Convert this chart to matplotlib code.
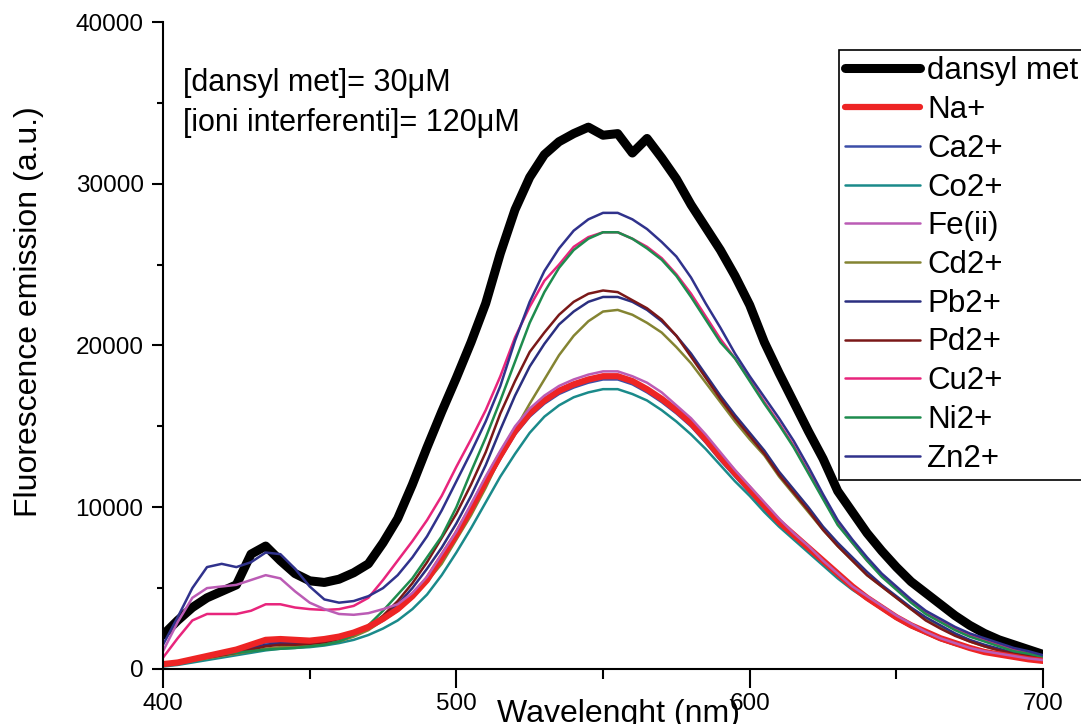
import matplotlib
matplotlib.use('Agg')
import matplotlib.pyplot as plt
from matplotlib.ticker import MultipleLocator

plt.rcParams['font.family'] = ['Liberation Sans', 'DejaVu Sans']

# emission spectra (5 nm steps)
wavelength = [400, 405, 410, 415, 420, 425, 430, 435, 440, 445, 450, 455, 460, 465, 470,
              475, 480, 485, 490, 495, 500, 505, 510, 515, 520, 525, 530, 535, 540, 545,
              550, 555, 560, 565, 570, 575, 580, 585, 590, 595, 600, 605, 610, 615, 620,
              625, 630, 635, 640, 645, 650, 655, 660, 665, 670, 675, 680, 685, 690, 695, 700]

dansyl_met = [2100, 3000, 3800, 4400, 4800, 5200, 7100, 7600, 6700, 5900, 5450, 5350, 5550, 5950, 6500,
              7800, 9300, 11400, 13700, 15900, 18000, 20200, 22600, 25700, 28400, 30400, 31800, 32600, 33100, 33500,
              33000, 33100, 31900, 32800, 31600, 30300, 28700, 27300, 25900, 24300, 22500, 20200, 18300, 16500, 14700,
              13000, 11000, 9700, 8400, 7300, 6300, 5400, 4700, 4000, 3300, 2700, 2200, 1800, 1500, 1200, 900]
na = [300, 400, 600, 800, 1000, 1200, 1500, 1800, 1850, 1800, 1750, 1850, 2000, 2250, 2600,
      3100, 3700, 4500, 5500, 6900, 8300, 9900, 11600, 13200, 14700, 15800, 16600, 17200, 17600, 17900,
      18100, 18100, 17800, 17300, 16700, 16000, 15200, 14200, 13100, 12100, 11100, 10100, 9100, 8300, 7500,
      6700, 5900, 5100, 4400, 3800, 3200, 2700, 2300, 1900, 1600, 1300, 1050, 900, 750, 600, 500]
ca = [250, 380, 550, 750, 950, 1150, 1400, 1650, 1700, 1700, 1700, 1800, 1950, 2150, 2500,
      3000, 3600, 4400, 5400, 6700, 8100, 9700, 11400, 13000, 14500, 15600, 16400, 17000, 17400, 17700,
      17900, 17900, 17600, 17100, 16500, 15800, 15000, 14000, 12900, 11900, 10900, 9900, 8900, 8100, 7300,
      6500, 5700, 5000, 4300, 3700, 3100, 2600, 2200, 1800, 1500, 1250, 1000, 850, 700, 580, 480]
co = [150, 250, 400, 550, 700, 850, 1000, 1150, 1250, 1300, 1350, 1450, 1600, 1800, 2100,
      2500, 3000, 3700, 4600, 5800, 7200, 8700, 10300, 11900, 13300, 14600, 15600, 16300, 16800, 17100,
      17300, 17300, 17000, 16600, 16000, 15300, 14500, 13600, 12600, 11600, 10700, 9700, 8800, 8000, 7200,
      6400, 5600, 4900, 4300, 3700, 3100, 2600, 2200, 1800, 1500, 1250, 1000, 850, 700, 580, 450]
fe = [1100, 2900, 4400, 5000, 5100, 5200, 5500, 5800, 5600, 4800, 4100, 3700, 3400, 3350, 3450,
      3700, 4000, 4700, 5700, 7100, 8500, 10200, 11900, 13500, 15000, 16100, 16900, 17500, 17900, 18200,
      18400, 18400, 18100, 17700, 17100, 16300, 15500, 14500, 13400, 12300, 11300, 10300, 9300, 8400, 7600,
      6700, 5900, 5100, 4500, 3900, 3300, 2800, 2300, 1900, 1600, 1300, 1100, 950, 800, 650, 550]
cd = [250, 380, 500, 650, 800, 950, 1100, 1250, 1350, 1400, 1450, 1550, 1700, 2000, 2400,
      3000, 3700, 4400, 5400, 6500, 8000, 9500, 11200, 13100, 14800, 16400, 17900, 19400, 20600, 21500,
      22100, 22200, 21900, 21400, 20800, 19900, 18900, 17700, 16500, 15300, 14200, 13200, 11900, 10800, 9700,
      8600, 7600, 6700, 5800, 5100, 4400, 3700, 3100, 2600, 2100, 1700, 1400, 1150, 950, 800, 650]
pb = [300, 450, 600, 750, 900, 1050, 1300, 1500, 1600, 1600, 1650, 1750, 1900, 2200, 2600,
      3200, 4000, 5000, 6200, 7500, 9000, 10700, 12600, 14800, 16900, 18700, 20100, 21300, 22100, 22700,
      23000, 23000, 22700, 22200, 21500, 20600, 19500, 18200, 16900, 15700, 14600, 13500, 12200, 11100, 10000,
      8800, 7800, 6900, 6000, 5200, 4500, 3800, 3200, 2700, 2200, 1800, 1500, 1250, 1000, 850, 700]
pd = [250, 400, 550, 700, 850, 1000, 1200, 1400, 1500, 1500, 1550, 1650, 1850, 2150, 2600,
      3300, 4200, 5300, 6600, 8100, 9600, 11400, 13400, 15800, 17800, 19600, 20800, 21900, 22700, 23200,
      23400, 23300, 22800, 22300, 21600, 20600, 19300, 18000, 16700, 15500, 14400, 13300, 12000, 10900, 9800,
      8600, 7600, 6700, 5800, 5100, 4400, 3700, 3000, 2500, 2050, 1700, 1400, 1150, 950, 800, 650]
cu = [700, 1900, 3000, 3400, 3400, 3400, 3600, 4000, 4000, 3800, 3700, 3650, 3700, 3900, 4400,
      5500, 6700, 7900, 9200, 10700, 12500, 14200, 16000, 18100, 20500, 22400, 24000, 25000, 26100, 26700,
      27000, 27000, 26600, 26100, 25400, 24400, 23200, 21800, 20400, 19200, 17900, 16500, 15200, 13800, 12200,
      10600, 9000, 7800, 6700, 5800, 5000, 4200, 3500, 3000, 2500, 2100, 1800, 1500, 1200, 1000, 800]
ni = [300, 450, 600, 750, 900, 1000, 1100, 1200, 1250, 1300, 1400, 1500, 1700, 2100, 2700,
      3600, 4600, 5600, 6900, 8200, 10000, 12200, 14300, 16600, 19000, 21400, 23300, 24800, 25900, 26600,
      27000, 27000, 26600, 26000, 25300, 24300, 23000, 21600, 20200, 19200, 17800, 16400, 15100, 13700, 12100,
      10500, 8900, 7800, 6700, 5700, 4900, 4100, 3400, 2900, 2400, 2000, 1700, 1400, 1100, 950, 750]
zn = [1500, 3200, 5000, 6300, 6500, 6300, 6600, 7200, 7100, 6200, 5100, 4300, 4100, 4200, 4500,
      5000, 5800, 6900, 8200, 9800, 11600, 13400, 15300, 17500, 20300, 22700, 24600, 26000, 27100, 27800,
      28200, 28200, 27800, 27200, 26400, 25500, 24200, 22600, 21100, 19500, 18100, 16800, 15500, 14100, 12500,
      10800, 9200, 8000, 6900, 5900, 5100, 4300, 3600, 3100, 2600, 2200, 1900, 1600, 1300, 1100, 850]

# name, values, colour, width, drawing order
series = [
    ('dansyl met', dansyl_met, 'black', 6.5, 2.0),
    ('Na+', na, '#ee2424', 4.5, 2.05),
    ('Ca2+', ca, '#3c4ea8', 1.8, 2.0),
    ('Co2+', co, '#1a8a8a', 1.8, 2.0),
    ('Fe(ii)', fe, '#bb5cb5', 1.8, 2.1),
    ('Cd2+', cd, '#848432', 1.8, 2.0),
    ('Pb2+', pb, '#2b2f80', 1.8, 2.0),
    ('Pd2+', pd, '#7a1818', 1.8, 2.0),
    ('Cu2+', cu, '#e8257c', 1.8, 2.0),
    ('Ni2+', ni, '#1e8c4e', 1.8, 2.0),
    ('Zn2+', zn, '#30328c', 1.8, 2.0),
]

fig = plt.figure(figsize=(10.81, 7.24), dpi=100, facecolor='white')
ax = fig.add_axes([0.1508, 0.076, 0.8141, 0.8936])

for name, vals, col, lw, z in series:
    ax.plot(wavelength, vals, color=col, lw=lw, label=name, zorder=z,
            solid_capstyle='round')

ax.set_xlim(400, 700)
ax.set_ylim(0, 40000)
ax.xaxis.set_major_locator(MultipleLocator(100))
ax.xaxis.set_minor_locator(MultipleLocator(50))
ax.yaxis.set_major_locator(MultipleLocator(10000))
ax.yaxis.set_minor_locator(MultipleLocator(5000))

for s in ['top', 'right']:
    ax.spines[s].set_visible(False)
for s in ['left', 'bottom']:
    ax.spines[s].set_linewidth(1.5)

ax.tick_params(axis='x', which='major', length=14, width=1.5, pad=3.5, labelsize=17.5)
ax.tick_params(axis='x', which='minor', length=7, width=1.5)
ax.tick_params(axis='y', which='major', length=8, width=1.5, pad=6, labelsize=17.5)
ax.tick_params(axis='y', which='minor', length=4, width=1.5)

ax.set_xlabel('Wavelenght (nm)', fontsize=23)
ax.xaxis.set_label_coords(0.518, -0.046)
ax.set_ylabel('Fluorescence emission (a.u.)', fontsize=23)
ax.yaxis.set_label_coords(-0.135, 0.553)

ax.text(0.0227, 0.929, '[dansyl met]= 30\u03bcM', transform=ax.transAxes,
        fontsize=22, va='top', ha='left')
ax.text(0.0227, 0.867, '[ioni interferenti]= 120\u03bcM', transform=ax.transAxes,
        fontsize=22, va='top', ha='left')

leg = fig.legend(loc='upper left', bbox_to_anchor=(839 / 1081, 1 - 50 / 724),
                 fontsize=22.5, frameon=True, fancybox=False, framealpha=1,
                 edgecolor='black', borderpad=0.2, borderaxespad=0,
                 handlelength=2.4, handletextpad=0.22, labelspacing=0.28)
leg.get_frame().set_linewidth(1.2)

fig.savefig('out.png', dpi=100, facecolor='white')
